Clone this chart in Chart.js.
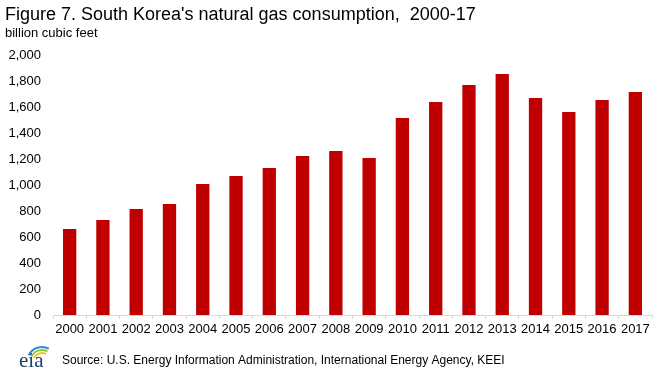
<!DOCTYPE html>
<html>
<head>
<meta charset="utf-8">
<script src="https://cdn.jsdelivr.net/npm/chart.js@4"></script>
<style>
html,body{margin:0;padding:0;background:#fff;}
#wrap{position:relative;width:656px;height:373px;}
</style>
</head>
<body>
<div id="wrap"><canvas id="c" width="656" height="373"></canvas></div>
<script>
const titleText = "Figure 7. South Korea's natural gas consumption,  2000-17";
const unitText = "billion cubic feet";
const sourceText = "Source: U.S. Energy Information Administration, International Energy Agency, KEEI";
const years = ["2000","2001","2002","2003","2004","2005","2006","2007","2008","2009","2010","2011","2012","2013","2014","2015","2016","2017"];
const consumption = [661, 730, 815, 854, 1007, 1069, 1130, 1223, 1261, 1207, 1515, 1638, 1769, 1853, 1669, 1561, 1653, 1715];
const yTicks = [0,200,400,600,800,1000,1200,1400,1600,1800,2000];

const FONT = "'Liberation Sans', Arial, sans-serif";

const textPlugin = {
  id: 'texts',
  afterDraw(chart) {
    const ctx = chart.ctx;
    ctx.save();
    ctx.fillStyle = '#000';
    ctx.textBaseline = 'alphabetic';
    ctx.textAlign = 'left';
    ctx.font = '18px ' + FONT;
    ctx.fillText(titleText, 5, 20);
    ctx.font = '13px ' + FONT;
    ctx.fillText(unitText, 5, 37);
    ctx.font = '12px ' + FONT;
    ctx.fillText(sourceText, 62, 364);
    // eia logo
    ctx.font = '21px "Liberation Serif", serif';
    ctx.fillStyle = '#1f3f6e';
    ctx.fillText('eia', 19, 367);
    ctx.lineWidth = 2;
    const arcs = [['#f2c12e', 9],['#8dc63f', 12],['#2a8fd4', 15]];
    arcs.forEach(([col, r]) => {
      ctx.strokeStyle = col;
      ctx.beginPath();
      ctx.arc(42, 362, r, Math.PI*1.15, Math.PI*1.65);
      ctx.stroke();
    });
    ctx.restore();
  }
};

new Chart(document.getElementById('c'), {
  type: 'bar',
  data: {
    labels: years,
    datasets: [{
      data: consumption,
      backgroundColor: '#C00000',
      borderWidth: 0,
      barPercentage: 0.4,
      categoryPercentage: 1.0
    }]
  },
  options: {
    responsive: false,
    animation: false,
    devicePixelRatio: 1,
    layout: { padding: { top: 55, left: 0, right: 4, bottom: 0 } },
    plugins: { legend: { display: false }, tooltip: { enabled: false }, title: { display: false } },
    scales: {
      x: {
        grid: { display: true, drawOnChartArea: false, drawTicks: true, tickLength: 4, color: '#d9d9d9', offset: true },
        border: { display: true, color: '#d9d9d9', width: 1 },
        ticks: { color: '#000', font: { family: FONT, size: 13 }, padding: 3, maxRotation: 0, autoSkip: false },
        afterFit(scale) { scale.height = 58; }
      },
      y: {
        min: 0, max: 2000,
        afterBuildTicks(scale) { scale.ticks = yTicks.map(v => ({ value: v })); },
        grid: { display: false, drawTicks: false },
        border: { display: false },
        ticks: {
          color: '#000', font: { family: FONT, size: 13 }, padding: 12,
          callback: v => v.toLocaleString('en-US')
        },
        afterFit(scale) { scale.width = 53; }
      }
    }
  },
  plugins: [textPlugin]
});
</script>
</body>
</html>
